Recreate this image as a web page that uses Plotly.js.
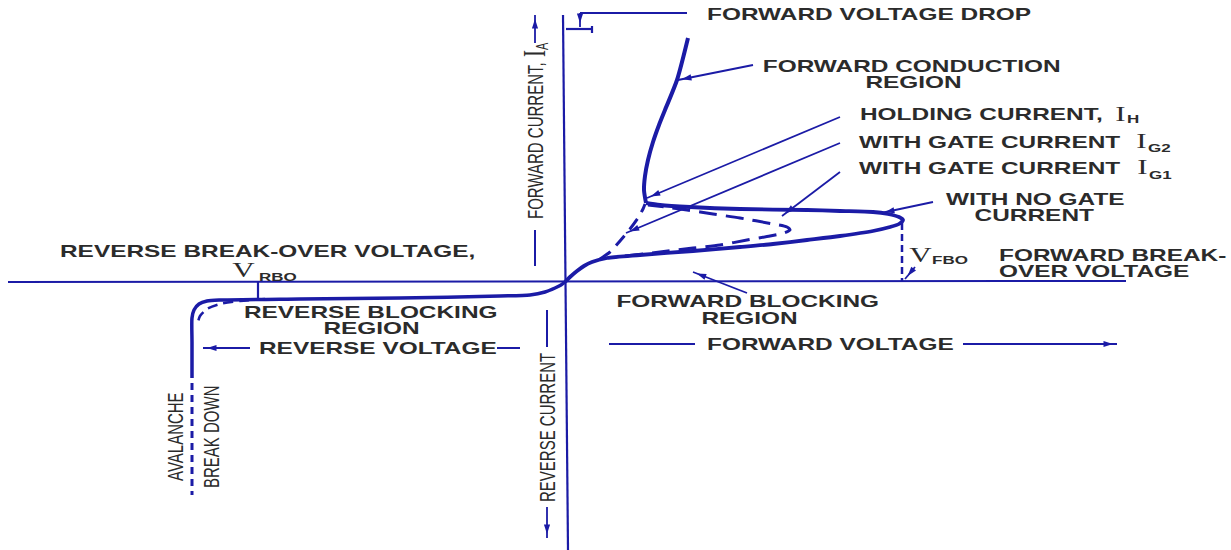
<!DOCTYPE html>
<html><head><meta charset="utf-8">
<script src="https://cdn.plot.ly/plotly-3.0.1.min.js"></script>
<style>html,body{margin:0;padding:0;background:#fff}#chart{width:1231px;height:550px}</style>
</head><body><div id="chart"></div>
<script>
// ---- data (V = voltage units, I = current units, origin at axes crossing) ----
// reverse characteristic (avalanche knee to origin)
const revV = [-373,-373,-373,-371,-366,-358,-345,-265,-165,-65,-35,-20,-10,-4,0];
const revI = [-96,-60,-36,-28,-22,-19,-18,-17,-16,-14,-13,-10,-6,-3,0];
// avalanche breakdown (dashed continuation)
const avaV = [-373,-373];
const avaI = [-101,-213];
// reverse characteristic, alternate (dashed)
const rev2V = [-300,-325,-345,-358,-365,-368];
const rev2I = [-17,-19,-22,-27,-34,-44];
// forward blocking loop with no gate current (origin -> V_FBO -> holding point)
const fwdV = [0,5,12,19,27,42,75,128,175,208,242,275,308,325,334,338,334,323,308,275,242,175,125,95,81];
const fwdI = [0,5,11,16,20,24,27,31,35,38,42,46,51,55,58,62,65,68,70,71,72,73,75,77,79];
// forward conduction region
const condV = [81,79,80,83,88,94,100,112,123];
const condI = [79,92,106,122,140,157,172,202,244];
// with gate current IG1 (dashed loop)
const g1V = [60,95,128,155,182,205,219,225,222,208,175,148,122,100,83];
const g1I = [26,30,34,37,42,46,49,52,55,58,64,68,72,75,77];
// with gate current IG2 (dashed)
const g2V = [35,45,55,65,73,78,80];
const g2I = [23,30,41,53,64,73,78];

const BLUE = '#1b1ba6';
const TXT = '#2b2b2b';
const STRETCH = 1.48;

const labels = [
  'FORWARD VOLTAGE DROP',            // 0
  'FORWARD CONDUCTION', 'REGION',    // 1,2
  'HOLDING CURRENT,',                // 3
  'WITH GATE CURRENT',               // 4
  'WITH GATE CURRENT',               // 5
  'WITH NO GATE', 'CURRENT',         // 6,7
  'FORWARD BREAK-', 'OVER VOLTAGE',  // 8,9
  'REVERSE BREAK-OVER VOLTAGE,',     // 10
  'REVERSE BLOCKING', 'REGION',      // 11,12
  'REVERSE VOLTAGE',                 // 13
  'FORWARD BLOCKING', 'REGION',      // 14,15
  'FORWARD VOLTAGE',                 // 16
  'FORWARD CURRENT,',                // 17
  'REVERSE CURRENT',                 // 18
  'AVALANCHE', 'BREAK DOWN'          // 19,20
];
// symbols and their subscripts
const symbols = ['I', 'I', 'I', 'V', 'V', 'I'];
const subscripts = ['H', 'G2', 'G1', 'FBO', 'RBO', 'A'];

// leader arrows: [tailV, tailI, headV, headI]
const leaders = [
  [188,217,113,202],   // forward conduction region
  [275,165,82,84],     // holding current
  [275,139,61,49],     // gate current IG2
  [275,110,217,66],    // gate current IG1
  [368,80,316,69],     // no gate current
  [350,15,340,3],      // V_FBO
  [182,-11,128,10],    // forward blocking region
  [15,269,15,255],     // forward voltage drop
  [-30,239,-30,267],   // forward current axis arrow
  [-18,-225,-18,-256], // reverse current axis arrow
  [-315,-66,-362,-66], // reverse voltage arrow
  [398,-62,552,-62]    // forward voltage arrow
];

function line(x, y, w, dash) {
  return {type:'scatter', mode:'lines', x:x, y:y, hoverinfo:'skip',
    line:{color:BLUE, width:w, dash:dash||'solid', shape:'spline', smoothing:0.7}};
}
const heads = leaders.map(function(l){
  const dx = l[2]-l[0], dy = l[3]-l[1], len = Math.hypot(dx, dy);
  return {x:l[2]-dx/len*4, y:l[3]-dy/len*4, a:Math.atan2(dx, dy)*180/Math.PI};
});
const traces = [
  line(revV, revI, 3.5),
  line(avaV, avaI, 3, '7px,5px'),
  line(rev2V, rev2I, 2.5, '10px,6px'),
  line(fwdV, fwdI, 3.8),
  line(condV, condI, 4),
  line(g1V, g1I, 3, '18px,9px'),
  line(g2V, g2I, 3, '13px,8px'),
  {type:'scatter', mode:'markers', hoverinfo:'skip',
   x:heads.map(h=>h.x), y:heads.map(h=>h.y),
   marker:{symbol:'arrow', size:10, color:BLUE, angle:heads.map(h=>h.a), line:{width:0}}}
];

const FAM = "'Liberation Sans', Arial, sans-serif";
const hFont = {family:FAM, size:16.5, color:TXT, weight:'bold'};
const rFont = {family:FAM, size:15, color:TXT};
const symFont = {family:"'Liberation Serif', 'Times New Roman', serif", size:21, color:TXT};
const subFont = {family:FAM, size:11.5, color:TXT, weight:'bold'};
const subRFont = {family:FAM, size:11, color:TXT};
function T(text, x, y, xa, font) {
  return {text:text, x:x, y:y, xref:'x', yref:'y', showarrow:false,
    xanchor:xa, yanchor:'middle', align:xa==='left'?'left':'center', font:font||hFont};
}
function R(text, x, y, font) {
  return {text:text, x:x, y:y, xref:'x', yref:'y', showarrow:false, textangle:-90,
    xanchor:'center', yanchor:'middle', font:font||rFont};
}
function S(x0, y0, x1, y1, w, dash) {
  return {type:'line', xref:'x', yref:'y', x0:x0, y0:y0, x1:x1, y1:y1,
    line:{color:BLUE, width:w||2, dash:dash||'solid'}};
}

const layout = {
  width:1231, height:550, margin:{l:0,r:0,t:0,b:0},
  paper_bgcolor:'#fff', plot_bgcolor:'#fff', showlegend:false,
  xaxis:{range:[-565,666], visible:false, fixedrange:true},
  yaxis:{range:[-268,282], visible:false, fixedrange:true},
  shapes:[
    S(-557,0,561,1,2),          // voltage axis
    S(-2,267,3,-268,2.2),       // current axis
    S(15,269,122,269,2),        // forward voltage drop leader
    S(1,253,27,253,2.2),        // drop bracket
    S(27,256,27,249,2.2),
    S(-30,52,-30,16,2),         // forward current label line
    S(-18,-28,-18,-65,2),       // reverse current label line
    S(-68,-66,-45,-66,2),       // reverse voltage trailing dash
    S(44,-62,130,-62,2),        // forward voltage leading line
    S(-307,0,-307,-17,2.2),     // V_RBO tick
    S(337,59,337,1,2.5,'7px,4px') // V_FBO dashed
  ].concat(leaders.map(l => S(l[0], l[1], l[2], l[3], 1.8))),
  annotations:[
    T(labels[0],140,268,'left'),
    T(labels[1],346,216,'center'), T(labels[2],348,200,'center'),
    T(labels[3],293,168,'left'),
    T(symbols[0],555,168,'center',symFont), T(subscripts[0],560,163,'left',subFont),
    T(labels[4],292,140,'left'),
    T(symbols[1],576,141,'center',symFont), T(subscripts[1],581,134,'left',subFont),
    T(labels[5],292,114,'left'),
    T(symbols[2],577,115,'center',symFont), T(subscripts[2],582,107,'left',subFont),
    T(labels[6],470,83,'center'), T(labels[7],469,67,'center'),
    T(symbols[3],355,27,'center',symFont), T(subscripts[3],365,22,'left',subFont),
    T(labels[8],432,27,'left'), T(labels[9],432,11,'left'),
    T(labels[10],-507,31,'left'),
    T(symbols[4],-322,12,'center',symFont), T(subscripts[4],-308,5,'left',subFont),
    T(labels[11],-195,-30,'center'), T(labels[12],-194,-46,'center'),
    T(labels[13],-308,-66,'left'),
    T(labels[14],183,-19,'center'), T(labels[15],184,-36,'center'),
    T(labels[16],140,-62,'left'),
    R(labels[17],-30,141), R(symbols[5],-30,228,symFont), R(subscripts[5],-23,236,subRFont),
    R(labels[18],-18,-146),
    R(labels[19],-390,-155), R(labels[20],-354,-155)
  ]
};

Plotly.newPlot('chart', traces, layout, {staticPlot:true, displayModeBar:false}).then(function(gd){
  const anns = gd.layout.annotations;
  gd.querySelectorAll('g.annotation').forEach(function(g, k){
    const idx = g.getAttribute('data-index');
    const a = anns[idx !== null ? +idx : k];
    if (!a || !a.text) return;
    const t = g.querySelector('text.annotation-text');
    if (!t) return;
    t.style.transformBox = 'fill-box';
    if (a.textangle === -90) {
      t.style.transformOrigin = 'center';
      t.style.transform = 'scaleY(' + STRETCH + ')';
    } else {
      t.style.transformOrigin = a.xanchor === 'left' ? 'left center' : 'center';
      t.style.transform = 'scaleX(' + STRETCH + ')';
    }
  });
});
</script>
</body></html>
